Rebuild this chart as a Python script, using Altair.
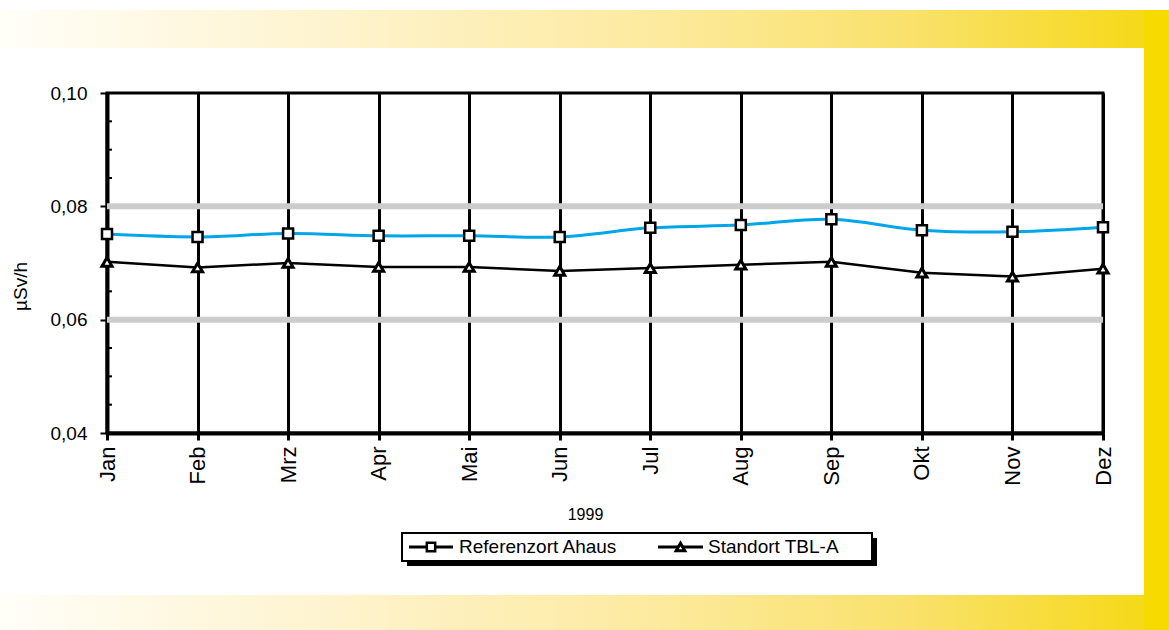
import altair as alt
import pandas as pd

# ---------------- data ----------------
months = ["Jan", "Feb", "Mrz", "Apr", "Mai", "Jun", "Jul", "Aug", "Sep", "Okt", "Nov", "Dez"]
ahaus = [0.0751, 0.0746, 0.0752, 0.0748, 0.0748, 0.0746, 0.0762, 0.0767, 0.0777, 0.0758, 0.0755, 0.0763]
tbl = [0.0702, 0.0692, 0.0700, 0.0693, 0.0693, 0.0686, 0.0691, 0.0697, 0.0702, 0.0683, 0.0676, 0.0690]
series = ["Referenzort Ahaus", "Standort TBL-A"]
y_major = [0.04, 0.06, 0.08, 0.10]
y_minor = [0.045, 0.05, 0.055, 0.065, 0.07, 0.075, 0.085, 0.09, 0.095]
y_bands = [0.06, 0.08]
x_title = "1999"
y_title = "µSv/h"

# ---------------- layout ----------------
W, H = 996, 340
L, T = 107, 93
PAGE_W, PAGE_H = 1169, 630
FONT = "Liberation Sans"

one = pd.DataFrame({"k": [0]})


def deco(x1, x2, y1, y2, **mark):
    """decorative rectangle given in page pixels"""
    return alt.Chart(one).mark_rect(**mark).encode(
        x=alt.value(x1 - L), x2=alt.value(x2 - L),
        y=alt.value(y1 - T), y2=alt.value(y2 - T))


grad = alt.LinearGradient(
    gradient="linear",
    stops=[
        alt.GradientStop(color="#FFFEF8", offset=0),
        alt.GradientStop(color="#FEF3CC", offset=0.3),
        alt.GradientStop(color="#FDEBA3", offset=0.55),
        alt.GradientStop(color="#F9E16A", offset=0.8),
        alt.GradientStop(color="#F6D919", offset=1),
    ],
    x1=0, x2=1, y1=0, y2=0,
)

top_band = deco(0, 1144, 10, 48, color=grad, strokeWidth=0)
bottom_band = deco(0, 1144, 595, 630, color=grad, strokeWidth=0)
right_bar = deco(1144, 1169, 10, 630, color="#F6DA00", strokeWidth=0)
shadow = deco(407, 877, 538, 566, color="black", strokeWidth=0)
box = deco(402, 872, 533, 561, fill="white", stroke="black", strokeWidth=2)

df = pd.DataFrame({
    "Monat": months * 2,
    "Wert": ahaus + tbl,
    "Reihe": [series[0]] * 12 + [series[1]] * 12,
})

y_scale = alt.Scale(domain=[0.04, 0.10], nice=False, zero=False)
x_scale = alt.Scale(type="point", padding=0)

x_axis = alt.Axis(
    title=x_title, labelAngle=270, labelAlign="right", labelBaseline="middle",
    grid=True, gridColor="black", gridWidth=3, gridOpacity=1,
    tickSize=7, tickWidth=3, tickColor="black",
    domainColor="black", domainWidth=4,
    labelFont=FONT, labelFontSize=22, labelPadding=6, labelColor="black",
    titleFont=FONT, titleFontSize=16, titleFontWeight="normal", titleColor="black",
    titleX=478, titleY=86, titleBaseline="alphabetic", titleAlign="center",
)
y_axis = alt.Axis(
    title=y_title, values=y_major, format=".2f",
    labelExpr="replace(datum.label, '.', ',')",
    grid=False, tickSize=7, tickWidth=2, tickColor="black",
    domainColor="black", domainWidth=4,
    labelFont=FONT, labelFontSize=19, labelPadding=13, labelColor="black",
    titleFont=FONT, titleFontSize=19, titleFontWeight="normal", titleColor="black",
    titleX=-87, titleY=193, titleAngle=270, titleAlign="center", titleBaseline="middle",
)

x_enc = alt.X("Monat:N", sort=months, scale=x_scale, axis=x_axis)
y_enc = alt.Y("Wert:Q", scale=y_scale, axis=y_axis)

bands = alt.Chart(pd.DataFrame({"b": y_bands})).mark_rule(
    color="#CCCCCC", strokeWidth=6).encode(
    y=alt.Y("b:Q", scale=y_scale, axis=y_axis))

minor = alt.Chart(pd.DataFrame({"m": y_minor})).mark_rule(
    color="black", strokeWidth=2).encode(
    y=alt.Y("m:Q", scale=y_scale, axis=y_axis), x=alt.value(0), x2=alt.value(5))

blue_line = alt.Chart(df).transform_filter(alt.datum.Reihe == series[0]).mark_line(
    color="#00A6E8", strokeWidth=3, interpolate="cardinal").encode(x=x_enc, y=y_enc)
black_line = alt.Chart(df).transform_filter(alt.datum.Reihe == series[1]).mark_line(
    color="black", strokeWidth=2.5).encode(x=x_enc, y=y_enc)
squares = alt.Chart(df).transform_filter(alt.datum.Reihe == series[0]).mark_point(
    shape="square", filled=True, fill="white", stroke="black", strokeWidth=2.5,
    size=100, opacity=1).encode(x=x_enc, y=y_enc)
triangles = alt.Chart(df).transform_filter(alt.datum.Reihe == series[1]).mark_point(
    shape="triangle-up", filled=True, fill="white", stroke="black", strokeWidth=3,
    size=100, opacity=1).encode(x=x_enc, y=y_enc)

# ---------------- legend (drawn as marks) ----------------
def legend_entry(name, shape, x_line1, x_line2, x_text, y_mid, sym_size, sym_sw):
    d = pd.DataFrame({"Reihe": [name]})
    xm = (x_line1 + x_line2) / 2
    line = alt.Chart(d).mark_rule(color="black", strokeWidth=3).encode(
        x=alt.value(x_line1 - L), x2=alt.value(x_line2 - L), y=alt.value(y_mid - T))
    sym = alt.Chart(d).mark_point(shape=shape, filled=True, fill="white", stroke="black",
                                  strokeWidth=sym_sw, size=sym_size, opacity=1).encode(
        x=alt.value(xm - L), y=alt.value(y_mid - T))
    txt = alt.Chart(d).mark_text(align="left", baseline="middle", font=FONT, fontSize=19,
                                 color="black").encode(
        text="Reihe:N", x=alt.value(x_text - L), y=alt.value(y_mid - T))
    return [line, sym, txt]


leg1 = legend_entry(series[0], "square", 409, 453, 459, 547, 70, 2.5)
leg2 = legend_entry(series[1], "triangle-up", 658, 703, 708, 547, 75, 3)

chart = alt.layer(
    top_band, bottom_band, right_bar, shadow, box,
    blue_line, bands, minor, black_line, squares, triangles,
    *leg1, *leg2,
).properties(
    width=W, height=H,
    padding={"left": L, "top": T, "right": PAGE_W - L - W, "bottom": PAGE_H - T - H},
    autosize=alt.AutoSizeParams(type="none"),
    background="white",
).configure(font=FONT).configure_view(stroke="black", strokeWidth=3)

chart.save("out.html", embed_options={"renderer": "svg", "actions": False})
